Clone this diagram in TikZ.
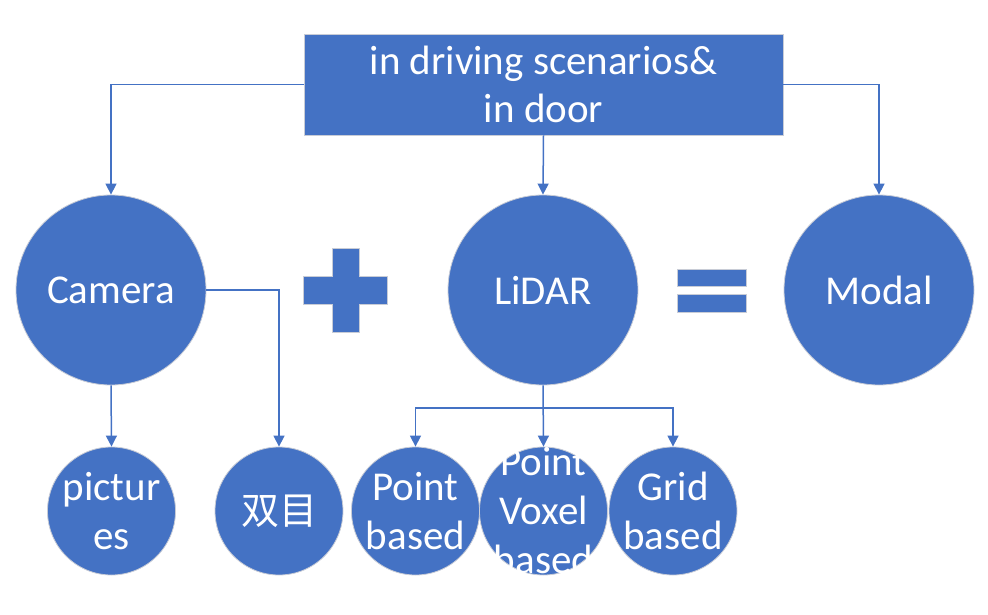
\documentclass[tikz,border=0pt]{standalone}
\usepackage{fontspec}
\setmainfont{Carlito}
\newfontfamily\cjk{Noto Sans CJK SC}
\usetikzlibrary{arrows.meta}
\definecolor{ob}{HTML}{4472C4}
\definecolor{edge}{HTML}{C8CCD6}
\begin{document}
\begin{tikzpicture}[x=1pt,y=-1pt,
  bigc/.style={circle, fill=ob, draw=edge, line width=0.8pt, minimum size=190pt, inner sep=0pt},
  smallc/.style={circle, fill=ob, draw=edge, line width=0.8pt, minimum size=128pt, inner sep=0pt},
  lbl/.style={inner sep=0pt, text=white, align=center, font=\fontsize{41}{49}\selectfont},
  topbox/.style={rectangle, fill=ob, draw=edge, line width=0.8pt, minimum width=479pt, minimum height=101pt, inner sep=0pt, text=white, align=center, font=\fontsize{41}{48}\selectfont},
  con/.style={draw=ob, line width=1.5pt, -{Triangle[width=11pt,length=11pt]}},
  sym/.style={fill=ob, draw=edge, line width=0.8pt}
]
\useasboundingbox (0,0) rectangle (988,615);
\node[topbox] (top) at (543.5,84.5) {in driving scenarios\&\\in door};
\node[bigc] (cam) at (111,290) {};
\node[bigc] (lidar) at (543,290) {};
\node[bigc] (modal) at (879,290) {};
\node[smallc] (pic) at (111.5,511) {};
\node[smallc] (shuang) at (279,511) {};
\node[smallc] (pb) at (415.5,511) {};
\node[smallc] (pv) at (543.5,511) {};
\node[smallc] (gb) at (673,511) {};
\node[lbl] (camt) at (cam) {Camera};
\node[lbl] (lidart) at (lidar) {LiDAR};
\node[lbl] (modalt) at (modal) {Modal};
\node[lbl] (pict) at (pic) {pictur\\es};
\node[lbl, font=\fontsize{38}{44}\cjk] (shuangt) at (shuang) {双目};
\node[lbl] (pbt) at (pb) {Point\\based};
\node[lbl] (pvt) at (pv) {Point\\Voxel\\based};
\node[lbl] (gbt) at (gb) {Grid\\based};
% plus and equals
\path[sym] (332,248) -- (359,248) -- (359,276) -- (387,276) -- (387,304) -- (359,304) -- (359,332) -- (332,332) -- (332,304) -- (303,304) -- (303,276) -- (332,276) -- cycle;
\path[sym] (677,269) rectangle (746,286);
\path[sym] (677,294) rectangle (746,312);
% connectors
\draw[con] (top.west) -| (cam.north);
\draw[con] (top.east) -| (modal.north);
\draw[con] (top.south) -- (lidar.north);
\draw[con] (cam.south) -- (pic.north);
\draw[con] (cam.east) -| (shuang.north);
\coordinate (br) at (543.5,408);
\draw[con] (lidar.south) -- (pv.north);
\draw[con] (br) -| (pb.north);
\draw[con] (br) -| (gb.north);
\end{tikzpicture}
\end{document}
